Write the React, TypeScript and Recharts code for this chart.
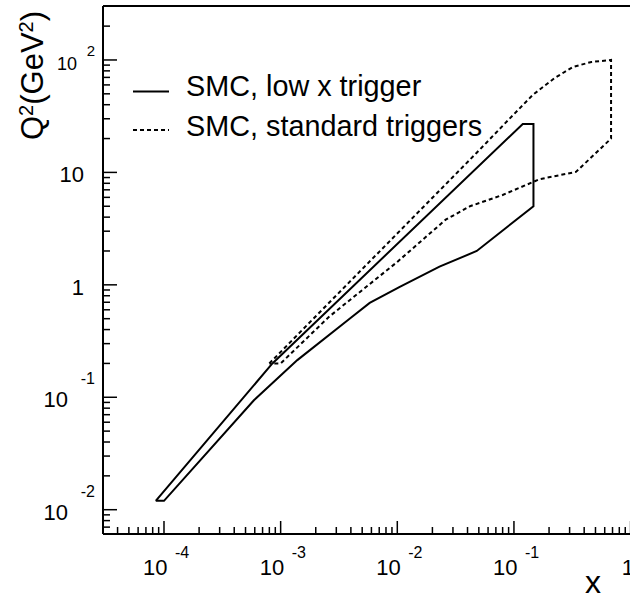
import React from "react";
import { ComposedChart, Line, XAxis, YAxis, ReferenceLine } from "recharts";

const FONT = "'Liberation Sans', Arial, Helvetica, sans-serif";

// low x trigger region (closed contour)
const lowX = [8.5e-5, 8.5e-4, 0.119, 0.147, 0.147, 0.048, 0.023, 0.0105, 5.8e-3, 3.9e-3, 1.39e-3, 5.9e-4, 1e-4, 8.5e-5];
const lowQ2 = [0.012, 0.2, 27, 27, 5, 2.0, 1.45, 0.96, 0.69, 0.5, 0.214, 0.094, 0.012, 0.012];

// standard triggers region (closed contour)
const stdX = [8e-4, 0.0475, 0.083, 0.145, 0.223, 0.32, 0.462, 0.68, 0.68, 0.34, 0.166, 0.08, 0.042, 0.026, 0.01, 2.6e-3, 1e-3, 8e-4];
const stdQ2 = [0.2, 14.8, 27, 48.9, 69, 86.7, 96, 100, 20, 10.1, 8.7, 6.3, 5, 3.8, 1.6, 0.52, 0.2, 0.2];

const xTicks = [
  4e-5, 5e-5, 6e-5, 7e-5, 8e-5, 9e-5,
  1e-4, 2e-4, 3e-4, 4e-4, 5e-4, 6e-4, 7e-4, 8e-4, 9e-4,
  1e-3, 2e-3, 3e-3, 4e-3, 5e-3, 6e-3, 7e-3, 8e-3, 9e-3,
  0.01, 0.02, 0.03, 0.04, 0.05, 0.06, 0.07, 0.08, 0.09,
  0.1, 0.2, 0.3, 0.4, 0.5, 0.6, 0.7, 0.8, 0.9, 1,
];
const xMajor = [1e-4, 1e-3, 0.01, 0.1, 1];
const xLabelBase = ["10", "10", "10", "10", "1"];
const xLabelExp = ["-4", "-3", "-2", "-1", ""];

const yTicks = [
  0.007, 0.008, 0.009,
  0.01, 0.02, 0.03, 0.04, 0.05, 0.06, 0.07, 0.08, 0.09,
  0.1, 0.2, 0.3, 0.4, 0.5, 0.6, 0.7, 0.8, 0.9,
  1, 2, 3, 4, 5, 6, 7, 8, 9,
  10, 20, 30, 40, 50, 60, 70, 80, 90,
  100, 200,
];
const yMajor = [0.01, 0.1, 1, 10, 100];
const yLabelBase = ["10", "10", "1", "10", "10"];
const yLabelExp = ["-2", "-1", "", "", "2"];

const legendNames = ["SMC, low x trigger", "SMC, standard triggers"];

const lowData = lowX.map((x, i) => ({ x, y: lowQ2[i] }));
const stdData = stdX.map((x, i) => ({ x, y: stdQ2[i] }));

const majorIndex = (v: number, list: number[]) =>
  list.findIndex((m) => Math.abs(Math.log10(m) - Math.log10(v)) < 1e-6);

function XTick(props: any) {
  const { x, y, payload } = props;
  const i = majorIndex(payload.value, xMajor);
  const major = i >= 0;
  return (
    <g>
      <line x1={x} x2={x} y1={y} y2={y - (major ? 13 : 7)} stroke="#000" strokeWidth={1.5} />
      {major && (
        <text x={x + 3.5} y={y + 41} textAnchor="end" fontSize={22} fontFamily={FONT} fill="#000">
          {xLabelBase[i]}
        </text>
      )}
      {major && xLabelExp[i] && (
        <text x={x + 11} y={y + 24} fontSize={16} fontFamily={FONT} fill="#000">
          {xLabelExp[i]}
        </text>
      )}
    </g>
  );
}

function YTick(props: any) {
  const { x, y, payload } = props;
  const i = majorIndex(payload.value, yMajor);
  const major = i >= 0;
  const exp = major ? yLabelExp[i] : "";
  const neg = exp.startsWith("-");
  let baseEnd = x - 19;
  if (exp) baseEnd = neg ? x - 35 : x - 26;
  return (
    <g>
      <line x1={x} x2={x + (major ? 14 : 7)} y1={y} y2={y} stroke="#000" strokeWidth={1.5} />
      {major && (
        <text
          x={baseEnd}
          y={y + (exp && !neg ? 10.5 : 10)}
          textAnchor="end"
          fontSize={exp && !neg ? 18 : 22}
          fontFamily={FONT}
          fill="#000"
        >
          {yLabelBase[i]}
        </text>
      )}
      {major && exp && (
        <text x={x - 8} y={y + (neg ? -13 : -3.5)} textAnchor="end" fontSize={neg ? 16 : 15} fontFamily={FONT} fill="#000">
          {exp}
        </text>
      )}
    </g>
  );
}

function YTitle() {
  return (
    <text transform="rotate(-90)" x={-140} y={43} fontSize={31} fontFamily={FONT} fill="#000">
      Q<tspan dy={-10} fontSize={20}>2</tspan>
      <tspan dy={10} fontSize={31}>(GeV</tspan>
      <tspan dy={-10} fontSize={20}>2</tspan>
      <tspan dy={10} fontSize={31}>)</tspan>
    </text>
  );
}

function XTitle() {
  return (
    <text x={585} y={593} fontSize={32} fontFamily={FONT} fill="#000">
      x
    </text>
  );
}

export default function App() {
  return (
    <div style={{ position: "absolute", left: 0, top: 0, width: 630, height: 599, overflow: "hidden", background: "#fff" }}>
      <ComposedChart width={640} height={599} margin={{ top: 6, right: 9, bottom: 0, left: 0 }}>
        <XAxis
          dataKey="x"
          type="number"
          scale="log"
          domain={[3e-5, 1.008]}
          allowDataOverflow
          ticks={xTicks}
          interval={0}
          tickSize={0}
          tickMargin={0}
          tickLine={false}
          tick={<XTick />}
          axisLine={{ stroke: "#000", strokeWidth: 2 }}
          height={65}
          label={<XTitle />}
        />
        <YAxis
          dataKey="y"
          type="number"
          scale="log"
          domain={[0.00608, 302]}
          allowDataOverflow
          ticks={yTicks}
          interval={0}
          tickSize={0}
          tickMargin={0}
          tickLine={false}
          tick={<YTick />}
          axisLine={{ stroke: "#000", strokeWidth: 2 }}
          width={103}
          label={<YTitle />}
        />
        <ReferenceLine y={302} stroke="#000" strokeWidth={2} />
        <ReferenceLine x={1.008} stroke="#000" strokeWidth={2} />
        <Line
          data={lowData}
          dataKey="y"
          type="linear"
          stroke="#000"
          strokeWidth={2}
          dot={false}
          activeDot={false}
          isAnimationActive={false}
        />
        <Line
          data={stdData}
          dataKey="y"
          type="linear"
          stroke="#000"
          strokeWidth={2}
          strokeDasharray="4 3"
          dot={false}
          activeDot={false}
          isAnimationActive={false}
        />
      </ComposedChart>
      <svg width={630} height={599} style={{ position: "absolute", left: 0, top: 0, pointerEvents: "none" }}>
        <line x1={133} x2={169} y1={91.5} y2={91.5} stroke="#000" strokeWidth={2} />
        <text x={186} y={96} fontSize={28.8} fontFamily={FONT} fill="#000">
          {legendNames[0]}
        </text>
        <line x1={133} x2={169} y1={130} y2={130} stroke="#000" strokeWidth={2} strokeDasharray="4 3" />
        <text x={186} y={136} fontSize={28.8} fontFamily={FONT} fill="#000">
          {legendNames[1]}
        </text>
      </svg>
    </div>
  );
}
